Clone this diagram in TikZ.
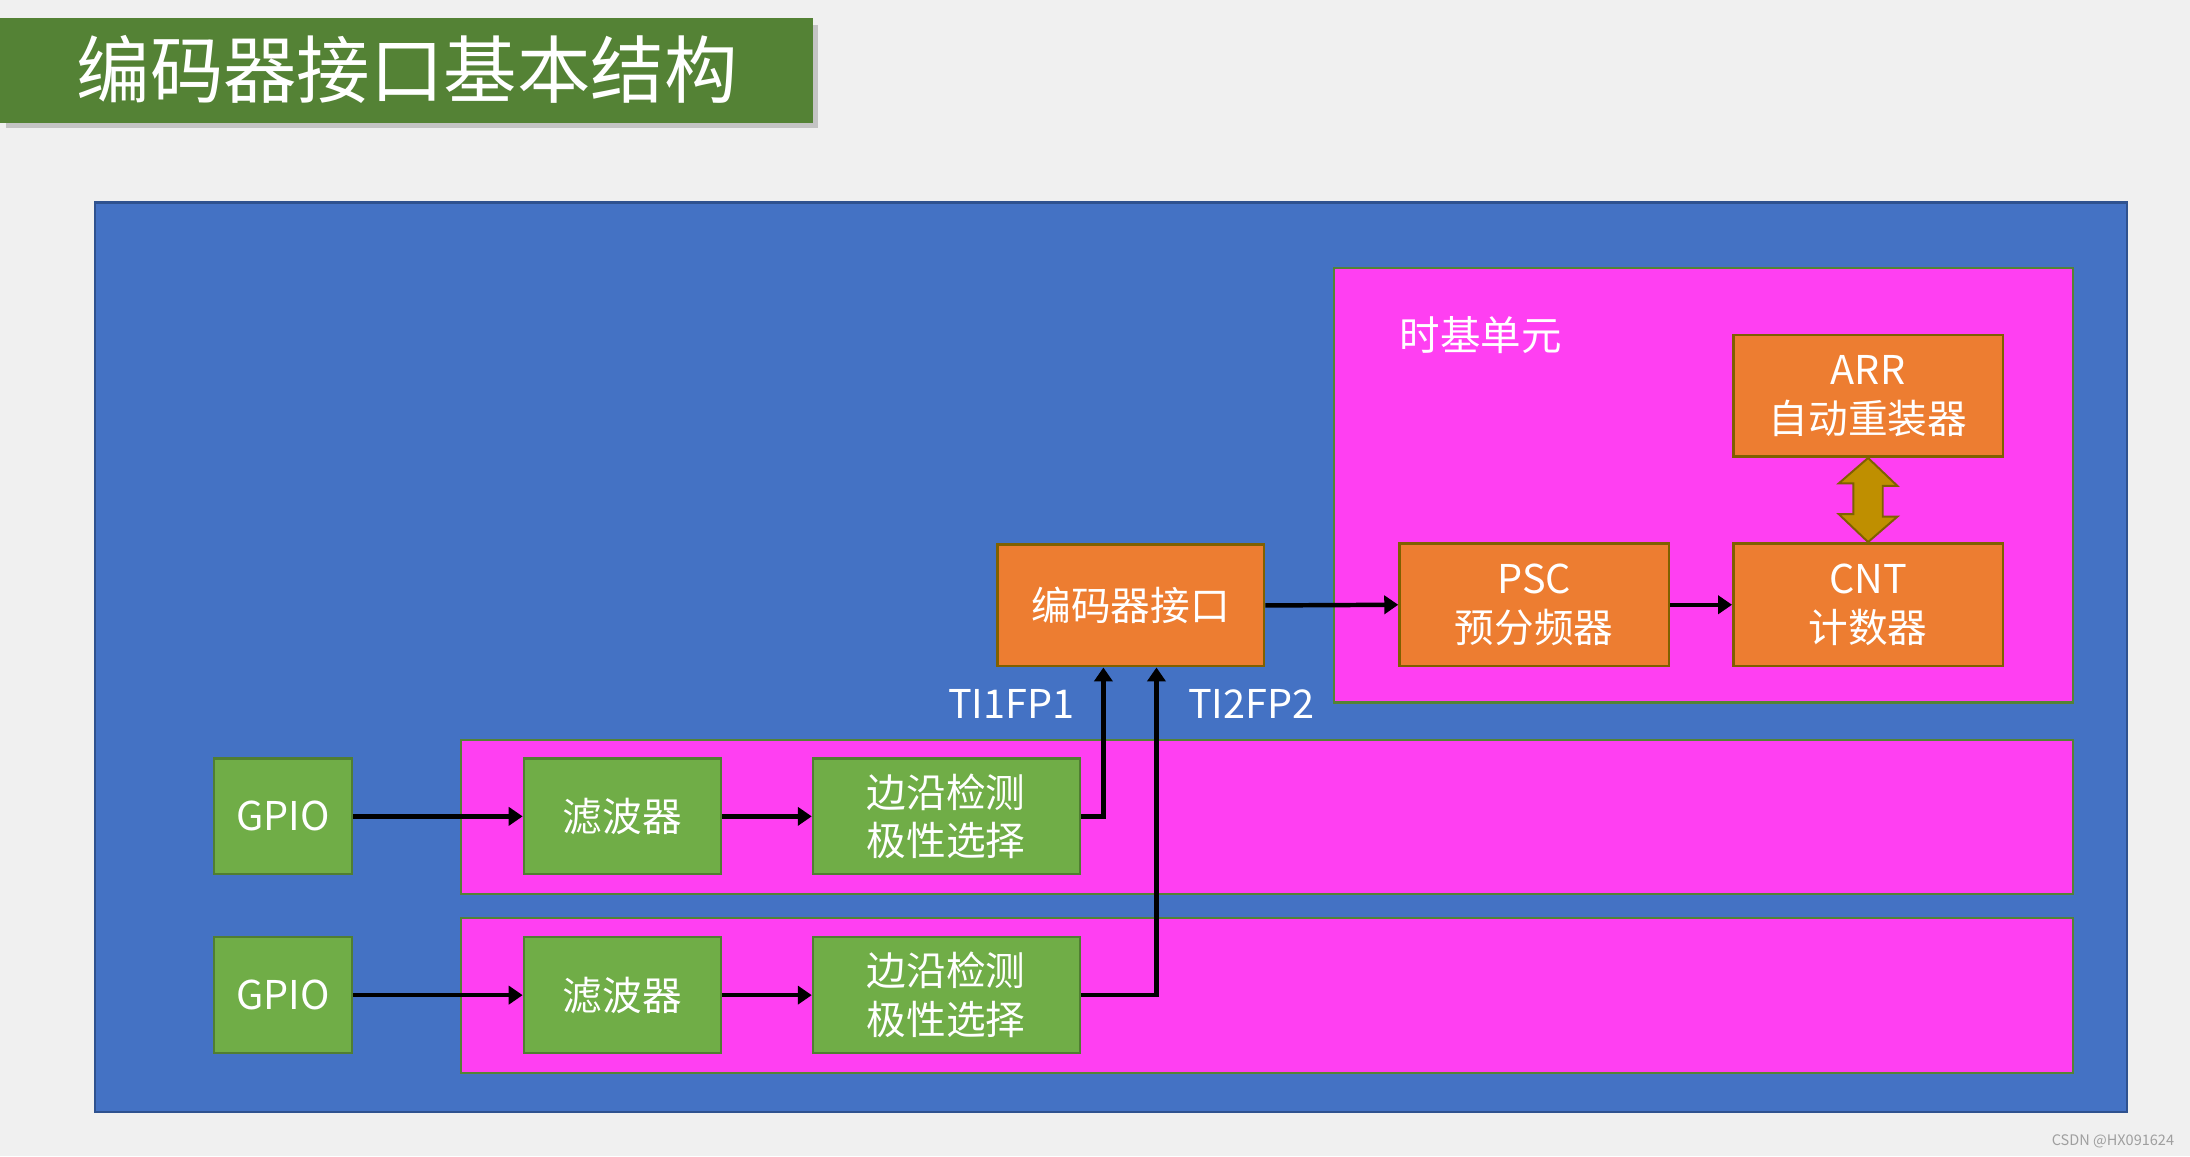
\documentclass[tikz,border=0pt]{standalone}
\usepackage{fontspec}
\setmainfont{Noto Sans CJK SC}
\usetikzlibrary{arrows.meta}
\definecolor{bgc}{HTML}{F0F0F0}
\definecolor{bluef}{HTML}{4472C4}
\definecolor{blued}{HTML}{2F528F}
\definecolor{pinkf}{HTML}{FF3FF2}
\definecolor{greend}{HTML}{548235}
\definecolor{greenf}{HTML}{70AD47}
\definecolor{greenb}{HTML}{507E32}
\definecolor{orangef}{HTML}{ED7D31}
\definecolor{oliveb}{HTML}{7F6000}
\definecolor{goldf}{HTML}{BF8F00}
\tikzset{
  txt/.style={text=white, font=\fontsize{14.2}{17.5}\selectfont, align=center, inner sep=0pt},
  panel/.style={draw=greend, line width=0.8pt, fill=pinkf, inner sep=0pt},
  gbox/.style={txt, draw=greenb, line width=0.8pt, fill=greenf, minimum height=41.5pt},
  obox/.style={txt, draw=oliveb, line width=0.9pt, fill=orangef, minimum width=96.5pt, minimum height=43.5pt},
  conn/.style={line width=1.6pt, -{Triangle[length=5pt,width=6.5pt]}},
}
\begin{document}
\begin{tikzpicture}[x=0.5pt,y=-0.5pt]
\useasboundingbox[fill=bgc] (0,0) rectangle (1568,828);
% title
\fill[gray!55, opacity=0.8] (4,18) rectangle (586,92);
\node[fill=greend, minimum width=291pt, minimum height=37.5pt, inner sep=0pt] (title) at (291,50.5) {};
\node[text=white, font=\fontsize{26.3}{30}\selectfont, inner sep=0pt] (titletext) at (291.5,50) {编码器接口基本结构};
% big blue area
\node[draw=blued, line width=0.8pt, fill=bluef, minimum width=727.5pt, minimum height=325.5pt, inner sep=0pt] (area) at (795.5,470.5) {};
% panels
\node[panel, minimum width=264.5pt, minimum height=155.5pt] (tb) at (1219.5,347.5) {};
\node[panel, minimum width=577pt, minimum height=55pt] (row1) at (907,585) {};
\node[panel, minimum width=577pt, minimum height=55.5pt] (row2) at (907,712.5) {};
\node[txt, font=\fontsize{14.5}{17}\selectfont] (tbl) at (1060,240) {时基单元};
% time base blocks
\node[obox] (arr) at (1337.5,283.5) {ARR\\自动重装器};
\node[obox, minimum height=44pt] (psc) at (1098.5,433) {PSC\\预分频器};
\node[obox, minimum height=44pt] (cnt) at (1337.5,433) {CNT\\计数器};
\node[obox, minimum width=95.5pt] (enc) at (809.5,433.5) {编码器接口};
% double arrow
\draw[draw=oliveb, fill=goldf, line width=0.7pt]
  (arr.south) -- ++(21,20) -- ++(-10.5,0) -- ++(0,22) -- ++(10.5,0)
  -- (cnt.north) -- ++(-21,-20) -- ++(10.5,0) -- ++(0,-22) -- ++(-10.5,0) -- cycle;
% input chain
\node[gbox, minimum width=49.5pt] (gpio1) at (202.5,584.5) {GPIO};
\node[gbox, minimum width=49.5pt] (gpio2) at (202.5,712.5) {GPIO};
\node[gbox, minimum width=70.5pt] (filt1) at (445.5,584.5) {滤波器};
\node[gbox, minimum width=70.5pt] (filt2) at (445.5,712.5) {滤波器};
\node[gbox, minimum width=95.5pt] (edge1) at (677.5,584.5) {边沿检测\\极性选择};
\node[gbox, minimum width=95.5pt] (edge2) at (677.5,712.5) {边沿检测\\极性选择};
% labels
\node[txt] (ti1) at (724,504) {TI1FP1};
\node[txt] (ti2) at (896,504) {TI2FP2};
% connectors
\draw[conn] (gpio1.east) -- (filt1.west);
\draw[conn] (filt1.east) -- (edge1.west);
\draw[conn] (gpio2.east) -- (filt2.west);
\draw[conn] (filt2.east) -- (edge2.west);
\draw[conn] (edge1.east) -| ([xshift=-9.75pt]enc.south);
\draw[conn] (edge2.east) -| ([xshift=9.25pt]enc.south);
\draw[conn] (enc.east) -- (psc.west);
\draw[conn] (psc.east) -- (cnt.west);
% watermark
\node[text=gray!75, font=\fontsize{5.2}{6}\selectfont, inner sep=0pt, anchor=east] (wm) at (1557,817) {CSDN @HX091624};
\end{tikzpicture}
\end{document}
